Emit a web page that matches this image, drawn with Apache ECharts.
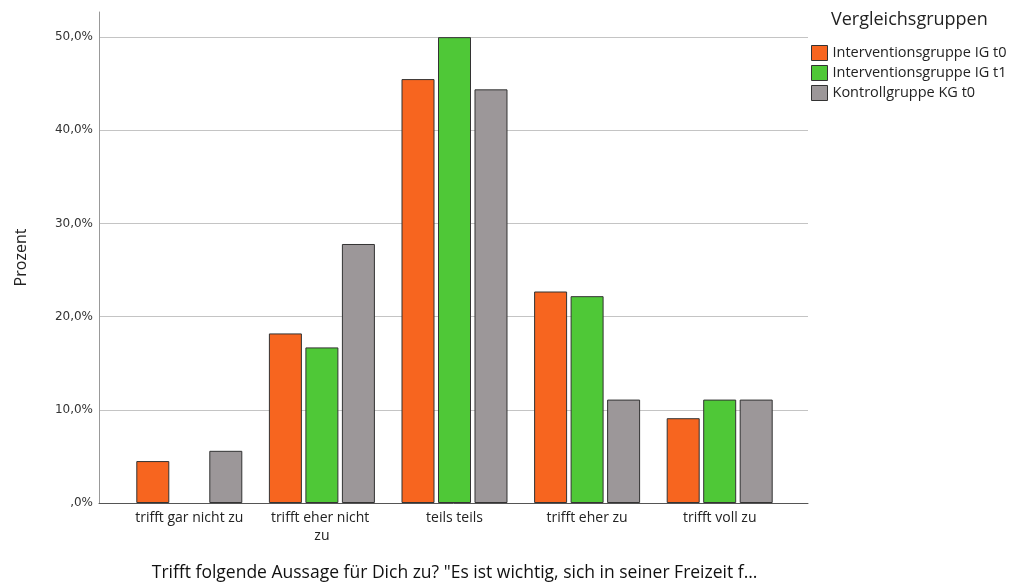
<!DOCTYPE html>
<html>
<head>
<meta charset="utf-8">
<script src="https://cdn.jsdelivr.net/npm/echarts@6/dist/echarts.min.js"></script>
<style>
html,body{margin:0;padding:0;background:#fff;}
#chart{width:1014px;height:585px;}
</style>
</head>
<body>
<div id="chart"></div>
<script>
const categories = ['trifft gar nicht zu', 'trifft eher nicht zu', 'teils teils', 'trifft eher zu', 'trifft voll zu'];
const seriesNames = ['Interventionsgruppe IG t0', 'Interventionsgruppe IG t1', 'Kontrollgruppe KG t0'];
const igT0 = [4.5, 18.2, 45.5, 22.7, 9.1];
const igT1 = [null, 16.7, 50.0, 22.2, 11.1];
const kgT0 = [5.6, 27.8, 44.4, 11.1, 11.1];
const yTicks = [0, 10, 20, 30, 40, 50];
const legendTitle = 'Vergleichsgruppen';
const xTitle = 'Trifft folgende Aussage für Dich zu? "Es ist wichtig, sich in seiner Freizeit f…';
const yTitle = 'Prozent';

const colors = ['#f7651f', '#4fc837', '#9c9799'];
const yMax = 52.7;

function fmtPct(v) {
  if (yTicks.indexOf(v) < 0) return '';
  if (v === 0) return ',0%';
  return v.toFixed(1).replace('.', ',') + '%';
}

const chart = echarts.init(document.getElementById('chart'), null, {renderer: 'canvas'});
const seriesData = [igT0, igT1, kgT0];

chart.setOption({
  animation: false,
  backgroundColor: '#ffffff',
  textStyle: {fontFamily: 'Open Sans'},
  grid: [
    {left: 99, right: 206, top: 12, bottom: 82, outerBoundsMode: 'none', containLabel: false},
    {left: 123, right: 228, top: 12, bottom: 82, outerBoundsMode: 'none', containLabel: false}
  ],
  xAxis: [
    {gridIndex: 0, type: 'category', data: categories,
     axisLine: {show: true, lineStyle: {color: '#555', width: 1}},
     axisTick: {show: false}, axisLabel: {show: false}, splitLine: {show: false}},
    {gridIndex: 1, type: 'category', data: categories,
     axisLine: {show: false}, axisTick: {show: false},
     axisLabel: {fontFamily: 'Open Sans', fontSize: 14, color: '#222', margin: 6, lineHeight: 18,
       width: 114, overflow: 'break', interval: 0},
     name: xTitle, nameLocation: 'middle', nameGap: 61,
     nameTextStyle: {fontFamily: 'Open Sans', fontSize: 17.5, color: '#111'}}
  ],
  yAxis: [
    {gridIndex: 0, type: 'value', min: 0, max: yMax, interval: 10,
     axisLine: {show: true, lineStyle: {color: '#999', width: 1}},
     axisTick: {show: false},
     axisLabel: {formatter: fmtPct, fontFamily: 'DejaVu Sans', fontSize: 12, color: '#333', margin: 6,
       showMaxLabel: false},
     splitLine: {show: true, showMaxLine: false, lineStyle: {color: '#c4c4c4', width: 1}},
     name: yTitle, nameLocation: 'middle', nameGap: 70, nameRotate: 90,
     nameTextStyle: {fontFamily: 'Open Sans', fontSize: 16, color: '#222'}},
    {gridIndex: 1, type: 'value', min: 0, max: yMax, interval: 10, show: false,
     splitLine: {show: false}}
  ],
  legend: {
    orient: 'vertical', left: 811, top: 45, padding: 0,
    itemWidth: 16, itemHeight: 15, itemGap: 4,
    icon: 'rect',
    data: seriesNames,
    textStyle: {fontFamily: 'Open Sans', fontSize: 14.5, color: '#222', padding: [0, 0, 0, 0]},
    itemStyle: {borderColor: '#333', borderWidth: 1}
  },
  graphic: [
    {type: 'text', left: 831, top: 11,
     style: {text: legendTitle, fontFamily: 'Open Sans', fontSize: 18, fill: '#222'}}
  ],
  series: seriesData.map((d, i) => ({
    name: seriesNames[i], type: 'bar', xAxisIndex: 1, yAxisIndex: 1,
    data: d, barWidth: 33, barGap: '10.6%',
    itemStyle: {color: colors[i], borderColor: '#333', borderWidth: 1}
  }))
});
</script>
</body>
</html>
